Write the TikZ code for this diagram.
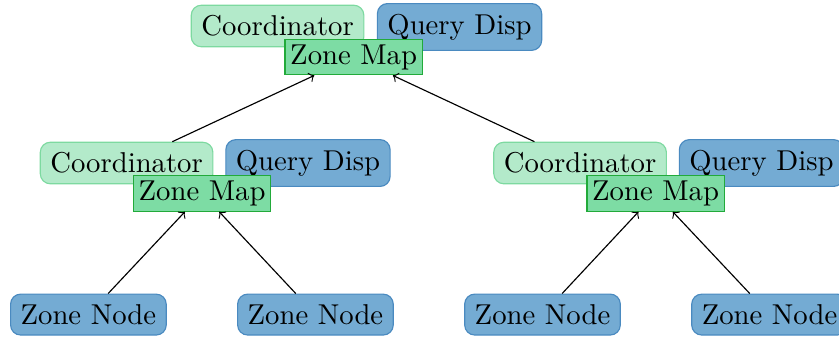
\documentclass[tikz,border=0pt]{standalone}
\definecolor{coordfill}{HTML}{B3EACA}
\definecolor{coorddraw}{HTML}{7DD9A0}
\definecolor{qdfill}{HTML}{74ABD3}
\definecolor{qddraw}{HTML}{4A8AC0}
\definecolor{zmfill}{HTML}{7DDCA4}
\definecolor{zmdraw}{HTML}{22AA3A}
\tikzset{
  coordbox/.style={draw=coorddraw, fill=coordfill, rounded corners=3.5pt, inner xsep=3.5pt, inner ysep=3.6pt},
  qdbox/.style={draw=qddraw, fill=qdfill, rounded corners=3.5pt, inner xsep=3.5pt, inner ysep=3.6pt},
  zmbox/.style={draw=zmdraw, fill=zmfill, inner sep=1.8pt},
  znbox/.style={draw=qddraw, fill=qdfill, rounded corners=3.5pt, inner xsep=3.5pt, inner ysep=3.6pt},
  link/.style={->, black}
}
\begin{document}
\begin{tikzpicture}[x=1pt,y=1pt]
\useasboundingbox (0,0) rectangle (292.3,-117.1);
% top
\node[coordbox] (tc) at (96.7,-9.06) {Coordinator};
\node[qdbox] (tq) at (160.1,-9.4) {Query Disp};
\node[zmbox] (tz) at (123.2,-19.9) {Zone Map};
% middle left
\node[coordbox] (lc) at (44.1,-56.8) {Coordinator};
\node[qdbox] (lq) at (107.3,-56.8) {Query Disp};
\node[zmbox] (lz) at (70.4,-67.4) {Zone Map};
% middle right
\node[coordbox] (rc) at (202.1,-56.8) {Coordinator};
\node[qdbox] (rq) at (265.3,-56.8) {Query Disp};
\node[zmbox] (rz) at (228.4,-67.4) {Zone Map};
% bottom
\node[znbox] (n1) at (30.8,-109.6) {Zone Node};
\node[znbox] (n2) at (109.9,-109.6) {Zone Node};
\node[znbox] (n3) at (189.0,-109.6) {Zone Node};
\node[znbox] (n4) at (268.1,-109.6) {Zone Node};
% links
\draw[link] (lc) -- (tz);
\draw[link] (rc) -- (tz);
\draw[link] (n1) -- (lz);
\draw[link] (n2) -- (lz);
\draw[link] (n3) -- (rz);
\draw[link] (n4) -- (rz);
\end{tikzpicture}
\end{document}
